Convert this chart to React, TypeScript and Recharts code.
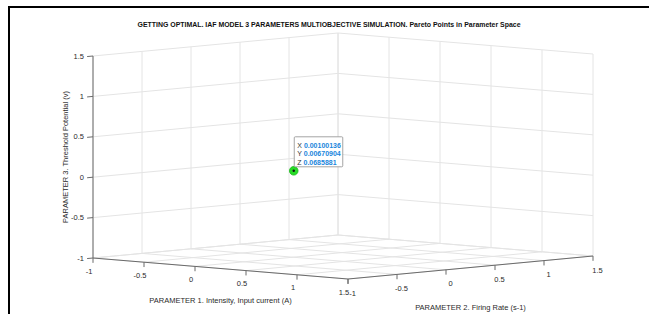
import React from 'react';
import { ScatterChart, Scatter, XAxis, YAxis } from 'recharts';

// ---- text ----
const TITLE =
  'GETTING OPTIMAL. IAF MODEL 3 PARAMETERS MULTIOBJECTIVE SIMULATION. Pareto Points in Parameter Space';
const X_LABEL = 'PARAMETER 1. Intensity, Input current (A)';
const Y_LABEL = 'PARAMETER 2. Firing Rate (s-1)';
const Z_LABEL = 'PARAMETER 3. Threshold Potential (v)';

// ---- axes ----
const xTicks = [-1, -0.5, 0, 0.5, 1, 1.5];
const yTicks = [-1, -0.5, 0, 0.5, 1, 1.5];
const zTicks = [-1, -0.5, 0, 0.5, 1, 1.5];
const xTickLabels = ['-1', '-0.5', '0', '0.5', '1', '1.5'];
const yTickLabels = ['-1', '-0.5', '0', '0.5', '1', '1.5'];
const zTickLabels = ['-1', '-0.5', '0', '0.5', '1', '1.5'];

// ---- data (Pareto points) ----
const paretoX = [0.00100136];
const paretoY = [0.00670904];
const paretoZ = [0.0685881];
const paretoTipX = ['0.00100136'];
const paretoTipY = ['0.00670904'];
const paretoTipZ = ['0.0685881'];

// ---- 3D view (camera) ----
const X0 = xTicks[0];
const X1 = xTicks[xTicks.length - 1];
const Y0 = yTicks[0];
const Y1 = yTicks[yTicks.length - 1];
const Z0 = zTicks[0];
const Z1 = zTicks[zTicks.length - 1];
const VIEW = { ox: 93, oy: 258, ex: [102, 8.4], ey: [98, -9.2], ez: [0, -80.8] };

function proj(x: number, y: number, z: number) {
  const u = x - X0;
  const v = y - Y0;
  const w = z - Z0;
  return {
    px: VIEW.ox + u * VIEW.ex[0] + v * VIEW.ey[0] + w * VIEW.ez[0],
    py: VIEW.oy + u * VIEW.ex[1] + v * VIEW.ey[1] + w * VIEW.ez[1],
  };
}

type Seg = { pts: { px: number; py: number }[]; color: string; width: number };

const GRID = '#e4e4e4';
const AXIS = '#6a6a6a';
const TXT = '#2a2a2a';
const FONT = '"Liberation Sans", Arial, sans-serif';

const gridSegs: Seg[] = [];
// left wall (x = X0)
zTicks.forEach((z) => gridSegs.push({ pts: [proj(X0, Y0, z), proj(X0, Y1, z)], color: GRID, width: 1 }));
yTicks.forEach((y) => gridSegs.push({ pts: [proj(X0, y, Z0), proj(X0, y, Z1)], color: GRID, width: 1 }));
// back wall (y = Y1)
zTicks.forEach((z) => gridSegs.push({ pts: [proj(X0, Y1, z), proj(X1, Y1, z)], color: GRID, width: 1 }));
xTicks.forEach((x) => gridSegs.push({ pts: [proj(x, Y1, Z0), proj(x, Y1, Z1)], color: GRID, width: 1 }));
// floor (z = Z0)
xTicks.forEach((x) => gridSegs.push({ pts: [proj(x, Y0, Z0), proj(x, Y1, Z0)], color: GRID, width: 1 }));
yTicks.forEach((y) => gridSegs.push({ pts: [proj(X0, y, Z0), proj(X1, y, Z0)], color: GRID, width: 1 }));

const axisSegs: Seg[] = [
  { pts: [proj(X0, Y0, Z0), proj(X0, Y0, Z1)], color: AXIS, width: 1 },
  { pts: [proj(X0, Y0, Z0), proj(X1, Y0, Z0)], color: AXIS, width: 1 },
  { pts: [proj(X1, Y0, Z0), proj(X1, Y1, Z0)], color: AXIS, width: 1 },
];
xTicks.forEach((x) => axisSegs.push({ pts: [proj(x, Y0, Z0), proj(x, Y0, Z0 - 0.06)], color: AXIS, width: 1 }));
yTicks.forEach((y) => axisSegs.push({ pts: [proj(X1, y, Z0), proj(X1, y, Z0 - 0.06)], color: AXIS, width: 1 }));
zTicks.forEach((z) => axisSegs.push({ pts: [proj(X0, Y0 - 0.06, z), proj(X0, Y0, z)], color: AXIS, width: 1 }));

type Lbl = { px: number; py: number; text: string; dx: number; dy: number; anchor: string; rot?: boolean; size: number };
const labels: Lbl[] = [];
xTicks.forEach((x, i) => labels.push({ ...proj(x, Y0, Z0), text: xTickLabels[i], dx: -4, dy: 13, anchor: 'middle', size: 7.5 }));
yTicks.forEach((y, i) => labels.push({ ...proj(X1, y, Z0), text: yTickLabels[i], dx: 4.5, dy: 14, anchor: 'middle', size: 7.5 }));
zTicks.forEach((z, i) => labels.push({ ...proj(X0, Y0, z), text: zTickLabels[i], dx: -9, dy: 0, anchor: 'end', size: 7.5 }));
labels.push({ ...proj((X0 + X1) / 2, Y0, Z0), text: X_LABEL, dx: 0, dy: 31.5, anchor: 'middle', size: 7.5 });
labels.push({ ...proj(X1, (Y0 + Y1) / 2, Z0), text: Y_LABEL, dx: 0, dy: 40, anchor: 'middle', size: 7.5 });
labels.push({ ...proj(X0, Y0, (Z0 + Z1) / 2), text: Z_LABEL, dx: -28, dy: 0, anchor: 'middle', rot: true, size: 7.5 });

const points = paretoX.map((x, i) => ({
  ...proj(x, paretoY[i], paretoZ[i]),
  tx: paretoTipX[i],
  ty: paretoTipY[i],
  tz: paretoTipZ[i],
}));

const noShape = () => <g />;

const LabelShape = (p: any) => {
  const d: Lbl = p.payload;
  const x = p.cx + d.dx;
  const y = p.cy + d.dy;
  return (
    <text
      x={x}
      y={y}
      textAnchor={d.anchor as any}
      dominantBaseline="central"
      fontFamily={FONT}
      fontSize={d.size}
      fill={TXT}
      transform={d.rot ? `rotate(-90 ${x} ${y})` : undefined}
    >
      {d.text}
    </text>
  );
};

const PointShape = (p: any) => {
  const d = p.payload;
  const cx = p.cx;
  const cy = p.cy;
  const bx = cx + 0.5;
  const by = cy - 34;
  return (
    <g>
      <circle cx={cx} cy={cy} r={4.3} fill="#26dc26" stroke="#14b814" strokeWidth={0.8} />
      <circle cx={cx} cy={cy} r={1.2} fill="#111" />
      <rect x={bx} y={by} width={48.5} height={30} fill="#ffffff" stroke="#9a9a9a" strokeWidth={0.9} rx={1} />
      {[
        ['X', d.tx],
        ['Y', d.ty],
        ['Z', d.tz],
      ].map((r, i) => (
        <text key={i} x={bx + 3} y={by + 8 + i * 8.5} dominantBaseline="central" fontFamily={FONT} fontSize={7}>
          <tspan fill="#333">{r[0]} </tspan>
          <tspan fill="#1a86dc" fontWeight="bold">{r[1]}</tspan>
        </text>
      ))}
    </g>
  );
};

export default function App() {
  return (
    <div style={{ position: 'absolute', left: 0, top: 0, width: 649, height: 314, background: '#fff', overflow: 'hidden' }}>
      <div style={{ position: 'absolute', left: 8, top: 6, width: 641, height: 2, background: '#000' }} />
      <div style={{ position: 'absolute', left: 8, top: 6, width: 2, height: 308, background: '#000' }} />
      <div
        style={{
          position: 'absolute',
          left: 29,
          top: 20,
          width: 600,
          textAlign: 'center',
          fontFamily: FONT,
          fontWeight: 'bold',
          fontSize: 6.95,
          lineHeight: '10px',
          color: '#111',
          whiteSpace: 'nowrap',
        }}
      >
        {TITLE}
      </div>
      <div style={{ position: 'absolute', left: 0, top: 0 }}>
        <ScatterChart width={649} height={314} margin={{ top: 0, right: 0, bottom: 0, left: 0 }}>
          <XAxis type="number" dataKey="px" domain={[0, 649]} hide allowDataOverflow />
          <YAxis type="number" dataKey="py" domain={[0, 314]} reversed hide allowDataOverflow />
          {gridSegs.map((s, i) => (
            <Scatter
              key={'g' + i}
              data={s.pts}
              line={{ stroke: s.color, strokeWidth: s.width }}
              shape={noShape}
              isAnimationActive={false}
              legendType="none"
            />
          ))}
          {axisSegs.map((s, i) => (
            <Scatter
              key={'a' + i}
              data={s.pts}
              line={{ stroke: s.color, strokeWidth: s.width }}
              shape={noShape}
              isAnimationActive={false}
              legendType="none"
            />
          ))}
          <Scatter data={labels} shape={LabelShape} isAnimationActive={false} legendType="none" />
          <Scatter data={points} shape={PointShape} isAnimationActive={false} legendType="none" />
        </ScatterChart>
      </div>
    </div>
  );
}
